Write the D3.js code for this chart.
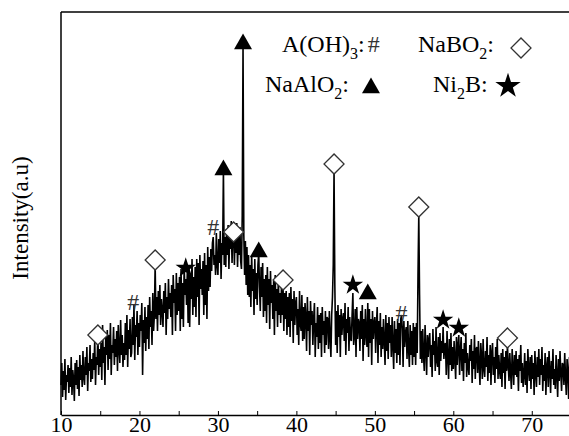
<!DOCTYPE html>
<html>
<head>
<meta charset="utf-8">
<script src="https://cdn.jsdelivr.net/npm/d3@7"></script>
<style>
  html, body { margin: 0; padding: 0; background: #fff; }
  svg { display: block; }
  svg text { font-family: "Liberation Serif", "DejaVu Serif", serif; }
</style>
</head>
<body>
<svg id="chart" width="569" height="436"></svg>
<script>
// XRD scan: 2θ from 10° to 75°, one reading every 0.1° (one row per degree)
const scanStart = 10;
const scanStep = 0.1;
const intensity = [
    30, 52, 18, 44, 25, 56, 15, 40, 33, 50,
    22, 47, 28, 58, 20, 45, 36, 14, 52, 30,
    55, 26, 48, 19, 60, 35, 50, 28, 64, 38,
    30, 58, 40, 68, 24, 52, 44, 70, 33, 56,
    36, 62, 45, 75, 30, 58, 50, 82, 40, 66,
    48, 72, 35, 90, 52, 68, 30, 78, 60, 85,
    45, 80, 56, 92, 40, 70, 62, 88, 50, 76,
    58, 84, 44, 90, 66, 52, 95, 60, 80, 48,
    72, 55, 92, 60, 100, 48, 85, 66, 96, 58,
    62, 98, 70, 110, 55, 90, 78, 104, 60, 92,
    68, 100, 84, 112, 40, 95, 72, 108, 64, 98,
    76, 110, 66, 118, 88, 104, 70, 122, 84, 100,
    150, 96, 118, 84, 124, 100, 130, 90, 116, 104,
    88, 124, 102, 132, 80, 118, 96, 136, 106, 122,
    98, 130, 80, 140, 112, 126, 84, 142, 100, 132,
    104, 138, 84, 146, 96, 132, 88, 150, 120, 136,
    110, 144, 92, 150, 88, 140, 116, 156, 100, 138,
    108, 148, 98, 156, 118, 152, 90, 160, 126, 146,
    120, 154, 100, 162, 110, 150, 96, 168, 124, 158,
    128, 166, 144, 172, 178, 150, 160, 140, 182, 150,
    140, 176, 152, 184, 136, 172, 160, 245, 150, 178,
    148, 186, 160, 190, 146, 180, 166, 194, 152, 182,
    190, 150, 184, 162, 192, 148, 178, 160, 188, 154,
    146, 200, 370, 180, 140, 174, 130, 168, 120, 160,
    118, 150, 108, 160, 124, 146, 100, 156, 116, 142,
    110, 150, 162, 128, 104, 148, 118, 152, 98, 136,
    104, 140, 92, 148, 110, 136, 86, 144, 112, 130,
    96, 134, 80, 140, 104, 126, 88, 138, 100, 122,
    92, 128, 100, 128, 84, 122, 96, 124, 80, 118,
    88, 122, 78, 128, 94, 116, 72, 124, 90, 112,
    118, 80, 106, 70, 124, 92, 84, 120, 74, 108,
    76, 112, 98, 64, 118, 84, 104, 60, 114, 90,
    104, 70, 96, 112, 58, 92, 78, 108, 66, 100,
    72, 102, 58, 108, 80, 94, 62, 104, 70, 98,
    96, 66, 104, 78, 58, 100, 118, 150, 245, 130,
    70, 104, 62, 110, 78, 100, 58, 106, 80, 96,
    102, 74, 112, 60, 96, 82, 108, 64, 98, 76,
    74, 100, 122, 70, 80, 106, 58, 108, 76, 96,
    92, 64, 104, 76, 110, 54, 96, 70, 106, 80,
    68, 112, 58, 106, 72, 96, 50, 104, 76, 92,
    98, 62, 90, 108, 52, 94, 70, 102, 58, 88,
    66, 96, 74, 50, 100, 64, 92, 56, 98, 72,
    90, 58, 98, 70, 46, 94, 62, 86, 52, 96,
    60, 92, 50, 96, 100, 86, 48, 94, 68, 82,
    88, 56, 94, 66, 48, 90, 60, 84, 50, 92,
    58, 88, 50, 92, 62, 140, 200, 120, 56, 84,
    52, 86, 60, 44, 90, 66, 40, 80, 58, 76,
    82, 48, 70, 38, 86, 60, 74, 44, 88, 54,
    48, 78, 40, 82, 54, 74, 62, 88, 56, 70,
    72, 40, 84, 58, 36, 76, 50, 82, 44, 68,
    46, 74, 56, 36, 78, 50, 70, 80, 40, 64,
    78, 44, 66, 34, 72, 52, 82, 38, 62, 48,
    40, 70, 54, 76, 32, 64, 46, 80, 36, 66,
    68, 42, 74, 50, 30, 72, 58, 36, 76, 46,
    38, 64, 48, 78, 34, 60, 42, 70, 30, 62,
    72, 40, 58, 32, 68, 46, 76, 36, 60, 44,
    36, 62, 28, 66, 42, 58, 26, 64, 44, 70,
    50, 34, 62, 42, 26, 66, 48, 30, 60, 40,
    64, 38, 56, 24, 60, 44, 70, 32, 52, 28,
    40, 62, 30, 54, 22, 66, 46, 34, 58, 26,
    60, 36, 52, 20, 64, 42, 28, 58, 38, 66,
    30, 56, 40, 68, 24, 50, 34, 62, 20, 48,
    58, 28, 64, 44, 22, 54, 36, 66, 30, 46,
    26, 60, 40, 18, 56, 34, 64, 42, 24, 52,
    50, 30, 62, 38, 20, 56, 44, 16, 58, 36,
    40
];

const xTicks = [10, 15, 20, 25, 30, 35, 40, 45, 50, 55, 60, 65, 70];

// phase markers [2θ, height] sitting over the peaks
const hashPeaks = [[19.2, 113], [29.4, 188], [53.4, 102]];
const diamondPeaks = [[14.7, 80], [22.0, 155], [32.0, 183], [38.3, 135], [44.8, 251], [55.6, 208], [66.9, 77]];
const trianglePeaks = [[33.2, 371], [30.7, 245], [35.2, 163], [49.1, 121]];
const starPeaks = [[25.9, 147], [47.2, 130], [58.7, 95], [60.7, 87]];

const serif = '"Liberation Serif", "DejaVu Serif", serif';
const svg = d3.select('#chart');
const margin = { left: 61, top: 12, bottom: 415 };

const x = d3.scaleLinear().domain([10, 75]).range([margin.left, 571]);
const y = d3.scaleLinear().domain([0, 403]).range([margin.bottom, margin.top]);

const points = intensity.map((v, i) => [scanStart + i * scanStep, v]);

svg.append('path')
    .datum(points)
    .attr('fill', 'none')
    .attr('stroke', '#000')
    .attr('stroke-width', 1.6)
    .attr('stroke-linejoin', 'miter')
    .attr('d', d3.line().x((d) => x(d[0])).y((d) => y(d[1])));

// frame: top and left lines
svg.append('line')
    .attr('x1', margin.left).attr('x2', 569)
    .attr('y1', margin.top).attr('y2', margin.top)
    .attr('stroke', '#000').attr('stroke-width', 1.5);
svg.append('line')
    .attr('x1', margin.left).attr('x2', margin.left)
    .attr('y1', margin.top).attr('y2', margin.bottom)
    .attr('stroke', '#000').attr('stroke-width', 1.5);

const xAxis = svg.append('g')
    .attr('transform', `translate(0,${margin.bottom})`)
    .call(d3.axisBottom(x)
        .tickValues(xTicks)
        .tickSizeInner(-4)
        .tickSizeOuter(0)
        .tickPadding(1)
        .tickFormat((d) => (d % 10 === 0 ? d : '')));
xAxis.attr('font-family', serif);
xAxis.select('.domain').attr('stroke-width', 1.5);
xAxis.selectAll('text')
    .attr('font-size', 22)
    .style('font-family', serif)
    .attr('fill', '#000');

svg.append('text')
    .attr('transform', 'translate(28,218) rotate(-90)')
    .attr('text-anchor', 'middle')
    .attr('font-size', 23)
    .style('font-family', serif)
    .text('Intensity(a.u)');

// peak markers
const markers = svg.append('g');
markers.selectAll('.hash')
    .data(hashPeaks)
    .join('text')
    .attr('class', 'hash')
    .attr('x', (d) => x(d[0]))
    .attr('y', (d) => y(d[1]))
    .attr('text-anchor', 'middle')
    .attr('dominant-baseline', 'central')
    .attr('font-size', 24)
    .style('font-family', serif)
    .attr('fill', '#333')
    .text('#');

const diamond = d3.symbol(d3.symbolSquare, 200)();
markers.selectAll('.diamond')
    .data(diamondPeaks)
    .join('path')
    .attr('class', 'diamond')
    .attr('d', diamond)
    .attr('transform', (d) => `translate(${x(d[0])},${y(d[1])}) rotate(45)`)
    .attr('fill', '#fff')
    .attr('stroke', '#333')
    .attr('stroke-width', 1.3);

const triangle = d3.symbol(d3.symbolTriangle, 140)();
markers.selectAll('.triangle')
    .data(trianglePeaks)
    .join('path')
    .attr('class', 'triangle')
    .attr('d', triangle)
    .attr('transform', (d) => `translate(${x(d[0])},${y(d[1])})`)
    .attr('fill', '#000');

const star = d3.symbol(d3.symbolStar, 130)();
markers.selectAll('.star')
    .data(starPeaks)
    .join('path')
    .attr('class', 'star')
    .attr('d', star)
    .attr('transform', (d) => `translate(${x(d[0])},${y(d[1])})`)
    .attr('fill', '#000');

// legend
function chemLabel(px, py, parts) {
    const t = svg.append('text').attr('x', px).attr('y', py)
        .attr('font-size', 24).style('font-family', serif);
    parts.forEach(([s, sub]) => {
        const span = t.append('tspan').text(s);
        if (sub) span.attr('dy', 7).attr('font-size', 16);
        else if (t.selectAll('tspan').size() > 1) span.attr('dy', -7);
    });
    return t;
}

chemLabel(282, 52, [['A(OH)'], ['3', true], [':']])
    .append('tspan').attr('dx', 3).attr('fill', '#333').text('#');
chemLabel(418, 52, [['NaBO'], ['2', true], [':']]);
chemLabel(265, 92, [['NaAlO'], ['2', true], [':']]);
chemLabel(433, 92, [['Ni'], ['2', true], ['B:']]);

svg.append('path').attr('d', diamond)
    .attr('transform', 'translate(521,48) rotate(45)')
    .attr('fill', '#fff').attr('stroke', '#333').attr('stroke-width', 1.3);
svg.append('path').attr('d', triangle)
    .attr('transform', 'translate(371,88)').attr('fill', '#000');
svg.append('path').attr('d', d3.symbol(d3.symbolStar, 200)())
    .attr('transform', 'translate(508,86)').attr('fill', '#000');
</script>
</body>
</html>
